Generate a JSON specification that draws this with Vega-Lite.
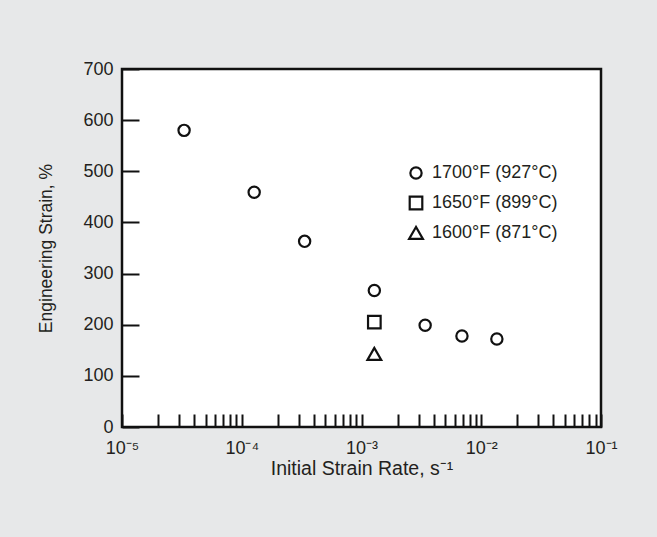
{
  "$schema": "https://vega.github.io/schema/vega-lite/v6.json",
  "width": 479,
  "height": 358,
  "autosize": {"type": "none"},
  "padding": {"left": 122, "top": 69, "right": 56, "bottom": 110},
  "background": "#e7e8e9",
  "config": {
    "view": {"stroke": "#111111", "strokeWidth": 2.5, "fill": "white"},
    "font": "Liberation Sans",
    "axis": {
      "domain": false,
      "grid": false,
      "tickColor": "#111111",
      "tickWidth": 2,
      "labelColor": "#231f20",
      "titleColor": "#231f20",
      "labelFont": "Liberation Sans",
      "titleFont": "Liberation Sans",
      "titleFontWeight": "normal",
      "labelFontSize": 18,
      "titleFontSize": 17
    },
    "legend": {
      "labelFont": "Liberation Sans",
      "labelFontSize": 18,
      "labelColor": "#231f20"
    }
  },
  "data": {
    "values": [
      {"rate": 3.3e-5, "strain": 580, "series": "1700°F (927°C)"},
      {"rate": 1.27e-4, "strain": 459, "series": "1700°F (927°C)"},
      {"rate": 3.35e-4, "strain": 363, "series": "1700°F (927°C)"},
      {"rate": 1.28e-3, "strain": 267, "series": "1700°F (927°C)"},
      {"rate": 3.4e-3, "strain": 199, "series": "1700°F (927°C)"},
      {"rate": 6.9e-3, "strain": 178, "series": "1700°F (927°C)"},
      {"rate": 1.35e-2, "strain": 172, "series": "1700°F (927°C)"},
      {"rate": 1.28e-3, "strain": 205, "series": "1650°F (899°C)"},
      {"rate": 1.28e-3, "strain": 143, "series": "1600°F (871°C)"}
    ]
  },
  "mark": {"type": "point", "filled": false, "stroke": "#111111", "strokeWidth": 2.2, "opacity": 1},
  "encoding": {
    "x": {
      "field": "rate",
      "type": "quantitative",
      "scale": {"type": "log", "domain": [0.00001, 0.1], "nice": false},
      "axis": {
        "title": "Initial Strain Rate, s⁻¹",
        "titleFontSize": 19.5,
        "values": [0.00001, 0.00002, 0.00003, 0.00004, 0.00005, 0.00006, 0.00007, 0.00008, 0.00009,
                   0.0001, 0.0002, 0.0003, 0.0004, 0.0005, 0.0006, 0.0007, 0.0008, 0.0009,
                   0.001, 0.002, 0.003, 0.004, 0.005, 0.006, 0.007, 0.008, 0.009,
                   0.01, 0.02, 0.03, 0.04, 0.05, 0.06, 0.07, 0.08, 0.09, 0.1],
        "labelExpr": "abs(log(datum.value)/LN10 - round(log(datum.value)/LN10)) < 0.01 ? '10' + ['⁻⁵','⁻⁴','⁻³','⁻²','⁻¹'][round(log(datum.value)/LN10)+5] : ''",
        "tickSize": -13,
        "labelPadding": 25,
        "labelFlush": false,
        "labelOverlap": false,
        "titlePadding": 2
      }
    },
    "y": {
      "field": "strain",
      "type": "quantitative",
      "scale": {"domain": [0, 700], "nice": false},
      "axis": {
        "title": "Engineering Strain, %",
        "titleFontSize": 17.5,
        "values": [0, 100, 200, 300, 400, 500, 600, 700],
        "tickSize": -17,
        "labelPadding": 26,
        "titlePadding": 27
      }
    },
    "shape": {
      "field": "series",
      "type": "nominal",
      "scale": {
        "domain": ["1700°F (927°C)", "1650°F (899°C)", "1600°F (871°C)"],
        "range": ["circle", "square", "triangle-up"]
      },
      "legend": {
        "title": null,
        "orient": "none",
        "legendX": 285,
        "legendY": 95,
        "padding": 0,
        "rowPadding": 8,
        "labelOffset": 7,
        "symbolStrokeColor": "#111111",
        "symbolFillColor": "transparent",
        "symbolStrokeWidth": 2.2
      }
    },
    "size": {
      "field": "series",
      "type": "nominal",
      "scale": {
        "domain": ["1700°F (927°C)", "1650°F (899°C)", "1600°F (871°C)"],
        "range": [127, 190, 240]
      }
    }
  }
}
